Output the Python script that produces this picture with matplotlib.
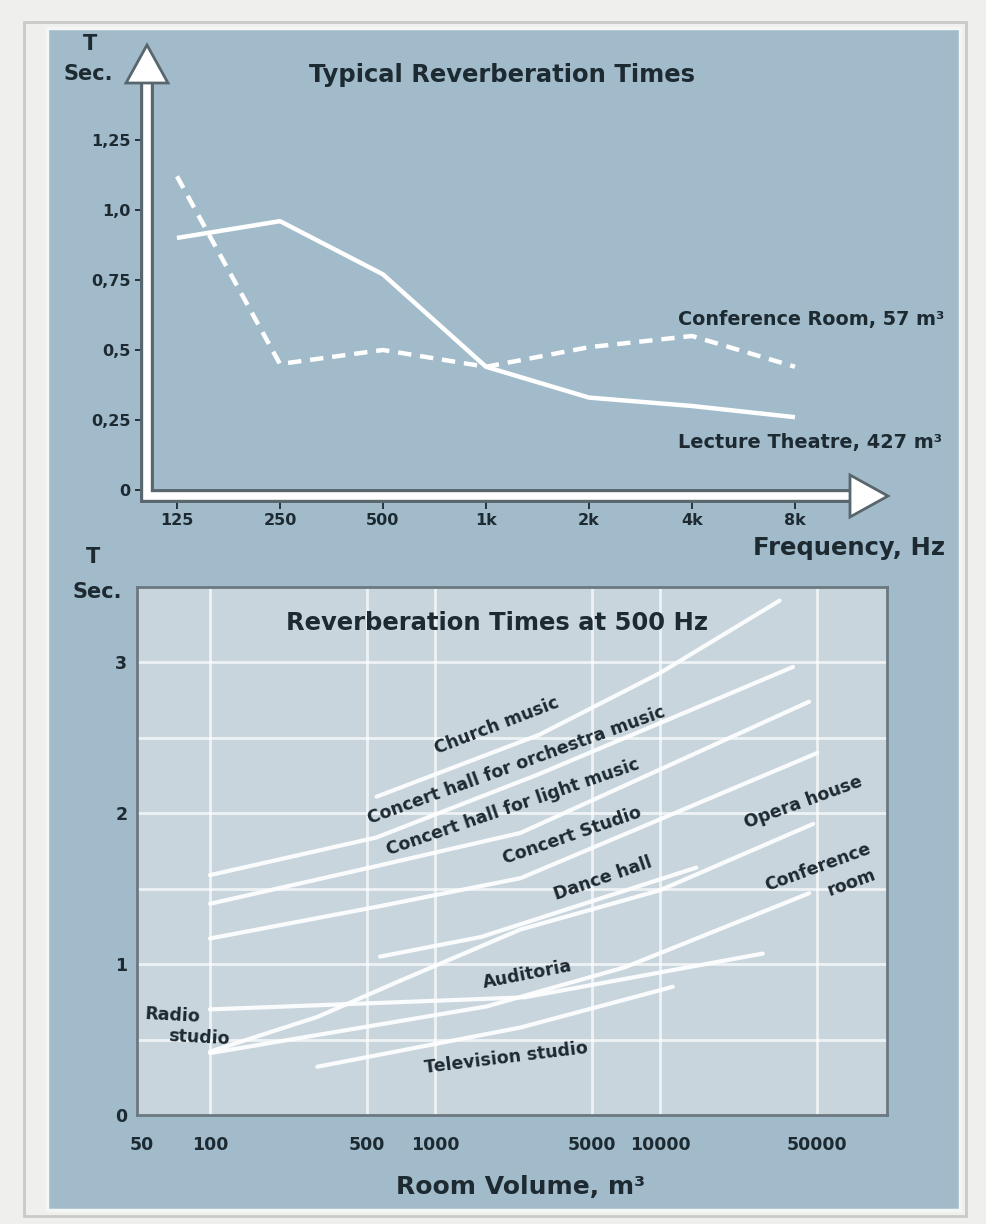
import numpy as np
import matplotlib
matplotlib.use('Agg')
import matplotlib.pyplot as plt
import matplotlib.patches as patches

W, H = 986, 1224
BG = '#a1bbca'
BOX = '#c8d5dd'
INK = '#1d2a32'
EDGE = '#58666e'
FONT = 'DejaVu Sans'

# --- top chart: typical reverberation times ---
freq_labels = ['125', '250', '500', '1k', '2k', '4k', '8k']
lecture_theatre = [0.90, 0.96, 0.77, 0.44, 0.33, 0.30, 0.26]
conference_room = [1.12, 0.45, 0.50, 0.44, 0.51, 0.55, 0.44]
t_ticks = [0, 0.25, 0.5, 0.75, 1.0, 1.25]
t_tick_labels = ['0', '0,25', '0,5', '0,75', '1,0', '1,25']

# --- bottom chart: reverberation times at 500 Hz vs room volume ---
vol_ticks = [50, 100, 500, 1000, 5000, 10000, 50000]
vol_tick_labels = ['50', '100', '500', '1000', '5000', '10000', '50000']
sec_ticks = [0, 1, 2, 3]
grid_sec = [0.5, 1.0, 1.5, 2.0, 2.5, 3.0]

church_v = [550, 2900, 10000, 34000]
church_t = [2.11, 2.52, 2.93, 3.41]
orchestra_v = [100, 550, 2900, 39000]
orchestra_t = [1.59, 1.84, 2.26, 2.97]
light_v = [100, 550, 2400, 46000]
light_t = [1.40, 1.65, 1.87, 2.74]
studio_v = [100, 550, 2400, 50000]
studio_t = [1.17, 1.38, 1.57, 2.40]
radio_v = [100, 300, 700]
radio_t = [0.42, 0.65, 0.89]
opera_v = [700, 2400, 10000, 48000]
opera_t = [0.89, 1.23, 1.49, 1.93]
dance_v = [570, 1600, 14500]
dance_t = [1.05, 1.18, 1.64]
auditoria_v = [100, 2500, 28600]
auditoria_t = [0.70, 0.78, 1.07]
confroom_v = [100, 1700, 7000, 46000]
confroom_t = [0.41, 0.72, 0.98, 1.47]
tv_v = [300, 2400, 11400]
tv_t = [0.32, 0.58, 0.85]

curves = [(church_v, church_t), (orchestra_v, orchestra_t), (light_v, light_t),
          (studio_v, studio_t), (radio_v, radio_t), (opera_v, opera_t),
          (dance_v, dance_t), (auditoria_v, auditoria_t),
          (confroom_v, confroom_t), (tv_v, tv_t)]

# label text, (V, T) anchor, rotation
curve_labels = [
    ('Church music', 1888, 2.58, 21),
    ('Concert hall for orchestra music', 2290, 2.32, 20),
    ('Concert hall for light music', 2220, 2.04, 19),
    ('Concert Studio', 4060, 1.85, 19),
    ('Dance hall', 5580, 1.57, 19),
    ('Opera house', 43200, 2.07, 20),
    ('Conference', 50400, 1.64, 20),
    ('room', 71300, 1.54, 20),
    ('Auditoria', 2570, 0.93, 11),
    ('Television studio', 2070, 0.38, 7),
    ('Radio', 68, 0.66, -3),
    ('studio', 89, 0.51, -3),
]


def fx(px):
    return px / W


def fy(py):
    return 1 - py / H


def px_rect(l, t, r, b):
    return [l / W, 1 - b / H, (r - l) / W, (b - t) / H]


fig = plt.figure(figsize=(W / 100, H / 100), dpi=100)
fig.patch.set_facecolor('#efefed')
fig.add_artist(patches.Rectangle((fx(24), fy(1216)), (966 - 24) / W, (1216 - 22) / H,
                                 transform=fig.transFigure, facecolor='none',
                                 edgecolor='#c9c9c6', lw=2, zorder=0))
fig.add_artist(patches.Rectangle((fx(47), fy(1210)), (960 - 47) / W, (1210 - 28) / H,
                                 transform=fig.transFigure, facecolor=BG,
                                 edgecolor='#f4f5f5', lw=2.5, zorder=0))

# ---------------- top chart ----------------
ax1 = fig.add_axes(px_rect(147, 45, 885, 496))
ax1.set_facecolor('none')
ax1.set_xlim(-0.291, 6.874)
ax1.set_ylim(-0.0214, 1.589)
for s in ax1.spines.values():
    s.set_visible(False)
x = np.arange(len(freq_labels))
ax1.plot(x, lecture_theatre, color='white', lw=3.2, solid_capstyle='butt', zorder=4)
ax1.plot(x, conference_room, color='white', lw=3.2, linestyle=(0, (3, 2)), zorder=4)

ax1.set_xticks(x)
ax1.set_xticklabels(freq_labels)
ax1.set_yticks(t_ticks)
ax1.set_yticklabels(t_tick_labels)
ax1.tick_params(axis='both', direction='out', length=9, width=1.3, color=INK,
                labelcolor=INK, pad=3)
ax1.tick_params(axis='x', labelsize=11.5)
ax1.tick_params(axis='y', labelsize=11.5)
for lab in ax1.get_xticklabels() + ax1.get_yticklabels():
    lab.set_fontweight('bold')
    lab.set_family(FONT)

# axis arrows (white shaft with dark shading)
ah_v = 38 / 451
aw_v = 21 / 738
ah_h = 35 / 738
aw_h = 21 / 451
shaft = [(0, 1 - ah_v), (0, 0), (1 - ah_h, 0)]
sx, sy = zip(*shaft)
ax1.plot(sx, sy, transform=ax1.transAxes, color=EDGE, lw=10, clip_on=False,
         solid_joinstyle='miter', solid_capstyle='butt', zorder=5)
ax1.plot(sx, sy, transform=ax1.transAxes, color='white', lw=5.5, clip_on=False,
         solid_joinstyle='miter', solid_capstyle='butt', zorder=6)
ax1.add_patch(patches.Polygon([(0, 1), (-aw_v, 1 - ah_v), (aw_v, 1 - ah_v)],
                              closed=True, transform=ax1.transAxes, facecolor='white',
                              edgecolor=EDGE, lw=2, clip_on=False, zorder=7))
ax1.add_patch(patches.Polygon([(1.004, 0), (1 - ah_h, aw_h), (1 - ah_h, -aw_h)],
                              closed=True, transform=ax1.transAxes, facecolor='white',
                              edgecolor=EDGE, lw=2, clip_on=False, zorder=7))

txt = dict(color=INK, fontweight='bold', family=FONT)
fig.text(fx(502), fy(75), 'Typical Reverberation Times', ha='center', va='center',
         fontsize=17.5, **txt)
fig.text(fx(90), fy(44), 'T', ha='center', va='center', fontsize=15, **txt)
fig.text(fx(88), fy(74), 'Sec.', ha='center', va='center', fontsize=15, **txt)
fig.text(fx(678), fy(320), 'Conference Room, 57 m³', ha='left', va='center',
         fontsize=13.8, **txt)
fig.text(fx(678), fy(442), 'Lecture Theatre, 427 m³', ha='left', va='center',
         fontsize=13.9, **txt)
fig.text(fx(945), fy(548), 'Frequency, Hz', ha='right', va='center',
         fontsize=17.5, **txt)

# ---------------- bottom chart ----------------
ax2 = fig.add_axes(px_rect(137, 587, 887, 1115))
ax2.set_facecolor(BOX)
ax2.set_xscale('log')
ax2.set_xlim(47.4, 102000)
ax2.set_ylim(0, 3.5)
for s in ax2.spines.values():
    s.set_color('#6b7880')
    s.set_linewidth(2)
for v in vol_ticks[1:]:
    ax2.axvline(v, color='white', lw=2, alpha=0.7, zorder=1)
for t in grid_sec:
    ax2.axhline(t, color='white', lw=2, alpha=0.7, zorder=1)

for vv, tt in curves:
    ax2.plot(vv, tt, color='white', lw=3, alpha=0.92, solid_capstyle='round',
             solid_joinstyle='round', zorder=3)

for s, v, t, r in curve_labels:
    ax2.text(v, t, s, rotation=r, rotation_mode='anchor', ha='center', va='center',
             fontsize=12.5, clip_on=False, zorder=4, **txt)

ax2.set_xticks(vol_ticks)
ax2.set_xticklabels(vol_tick_labels)
ax2.minorticks_off()
ax2.set_yticks(sec_ticks)
ax2.set_yticklabels([str(s) for s in sec_ticks])
ax2.tick_params(axis='both', length=0, labelcolor=INK, labelsize=12.5)
ax2.tick_params(axis='x', pad=15)
ax2.tick_params(axis='y', pad=7)
for lab in ax2.get_xticklabels() + ax2.get_yticklabels():
    lab.set_fontweight('bold')
    lab.set_family(FONT)

fig.text(fx(497), fy(623), 'Reverberation Times at 500 Hz', ha='center', va='center',
         fontsize=17.5, **txt)
fig.text(fx(93), fy(557), 'T', ha='center', va='center', fontsize=15, **txt)
fig.text(fx(97), fy(592), 'Sec.', ha='center', va='center', fontsize=15, **txt)
fig.text(fx(521), fy(1187), 'Room Volume, m³', ha='center', va='center',
         fontsize=18, **txt)

fig.savefig('out.png', dpi=100, facecolor=fig.get_facecolor())
